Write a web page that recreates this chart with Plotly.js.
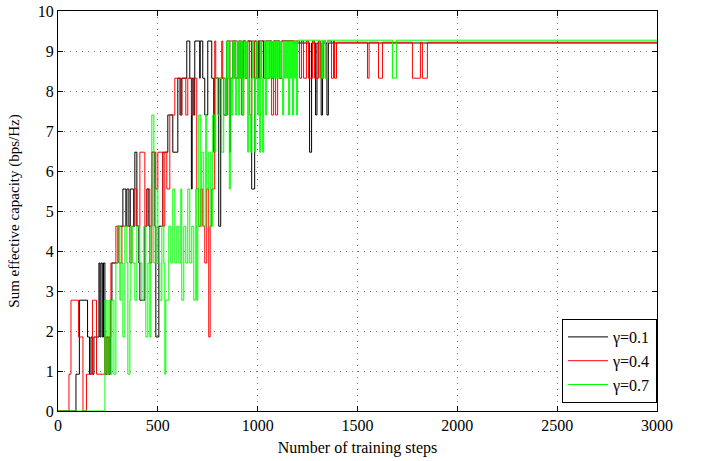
<!DOCTYPE html>
<html>
<head>
<meta charset="utf-8">
<script src="https://cdn.plot.ly/plotly-3.0.1.min.js"></script>
<style>html,body{margin:0;padding:0;background:#fff;}#chart{width:705px;height:461px;}</style>
</head>
<body>
<div id="chart"></div>
<script>
// Series names
const seriesNames = ["γ=0.1", "γ=0.4", "γ=0.7"];

// γ=0.1 (black): training step where value changes, and the value
const blackSteps = [0,90,107,148,158,165,172,180,205,210,215,222,228,235,245,255,262,270,300,325,340,345,355,362,378,385,395,405,410,435,445,455,470,485,490,505,525,550,575,600,615,620,645,660,668,672,680,685,710,712,725,735,750,770,780,785,805,815,830,845,860,865,875,890,905,915,925,940,950,970,985,995,1005,1030,1040,1070,1080,1110,1120,1180,1260,1270,1290,1297,1318,1325,1347,1354,3000];
const blackVals  = [0,0.92,2.77,1.85,0.92,1.85,0.92,1.85,3.7,1.85,3.7,1.85,3.7,0.92,1.85,0.92,2.77,3.7,4.62,5.55,4.62,5.55,4.62,5.55,4.62,6.47,4.62,3.7,2.77,4.62,5.55,4.62,6.47,4.62,1.85,4.62,6.47,7.4,6.47,8.32,7.4,8.32,9.25,8.32,5.55,8.32,7.4,9.25,8.32,9.25,8.32,7.4,9.25,8.32,6.47,8.32,4.62,8.32,7.4,9.25,6.47,8.32,9.25,8.32,9.25,8.32,9.25,8.32,9.25,5.55,9.25,8.32,9.25,8.32,9.25,8.32,9.25,8.32,9.25,9.2,6.47,9.2,7.4,9.2,7.4,9.2,7.4,9.2,9.2];

// γ=0.4 (red)
const redSteps = [0,55,65,103,125,143,173,193,235,245,255,265,290,305,320,360,370,380,395,410,435,445,460,470,490,500,525,535,545,560,585,610,620,640,650,670,680,695,705,715,725,735,745,755,762,770,785,790,820,825,840,850,860,880,885,900,910,920,930,940,950,960,970,985,1000,1010,1020,1040,1060,1070,1080,1090,1100,1110,1120,1210,1220,1230,1245,1255,1275,1285,1305,1315,1330,1340,1350,1370,1380,1385,1395,1550,1558,1605,1625,1775,1815,1825,1850,3000];
const redVals  = [0,0.92,2.77,1.85,0,0.92,2.77,0.92,1.85,0.92,1.85,3.7,4.62,3.7,4.62,3.7,4.62,5.55,4.62,6.47,4.62,5.55,3.7,6.47,5.55,6.47,4.62,6.47,5.55,7.4,8.32,7.4,8.32,7.4,8.32,7.4,8.32,5.55,4.62,5.55,4.62,3.7,5.55,1.85,4.62,5.55,9.25,8.32,9.25,8.32,7.4,8.32,9.25,8.32,9.25,8.32,9.25,7.4,9.25,8.32,9.25,7.4,9.25,8.32,9.25,8.32,9.25,8.32,9.25,7.4,9.25,7.4,9.25,8.32,9.25,8.32,9.25,8.32,9.25,8.32,9.25,8.32,9.25,8.32,9.25,8.32,9.25,8.32,9.25,8.32,9.22,8.32,9.22,8.32,9.22,8.32,9.22,8.32,9.22,9.22];

// γ=0.7 (green)
const greenSteps = [0,235,245,255,265,270,280,290,300,310,315,325,335,345,350,360,365,375,385,395,410,420,430,440,450,460,465,470,480,490,500,510,520,530,535,540,555,565,575,585,595,605,615,620,630,640,650,660,670,680,690,695,700,705,715,720,730,740,745,755,765,775,785,790,800,810,820,830,840,845,850,855,858,863,870,875,880,885,890,895,900,905,910,915,920,925,930,935,940,945,950,955,960,965,970,975,980,985,990,995,1000,1005,1010,1015,1020,1025,1030,1035,1040,1045,1050,1055,1060,1065,1070,1075,1080,1085,1090,1095,1100,1105,1110,1115,1120,1125,1130,1135,1140,1145,1150,1155,1160,1165,1170,1175,1180,1185,1190,1195,1200,1310,1318,1325,1332,1340,1350,1675,1695,3000];
const greenVals  = [0,2.77,0.92,2.77,0.92,2.77,0.92,3.7,4.62,2.77,3.7,1.85,4.62,3.7,0.92,2.77,4.62,3.7,2.77,4.62,3.7,2.77,4.62,1.85,3.7,1.85,4.62,7.4,3.7,5.55,3.7,2.77,4.62,3.7,0.92,2.77,4.62,3.7,5.55,3.7,4.62,3.7,5.55,2.77,4.62,3.7,5.55,3.7,4.62,2.77,5.55,2.77,4.62,7.4,4.62,6.47,4.62,7.4,5.55,6.47,4.62,7.4,6.47,8.32,7.4,8.32,6.47,8.32,7.4,9.25,8.32,9.25,5.55,8.32,7.4,9.25,8.32,9.25,7.4,8.32,9.25,7.4,9.25,8.32,9.25,7.4,8.32,9.25,8.32,9.25,6.47,8.32,7.4,6.47,8.32,9.25,8.32,6.47,8.32,9.25,7.4,8.32,6.47,9.25,8.32,6.47,8.32,9.25,7.4,9.25,8.32,9.25,8.32,9.25,8.32,9.25,8.32,9.25,8.32,9.25,8.32,9.25,8.32,9.25,8.32,7.4,9.25,8.32,9.25,8.32,9.25,7.4,9.25,8.32,9.25,7.4,9.25,8.32,9.25,7.4,9.27,8.32,9.27,8.32,9.27,8.32,9.27,8.32,9.27,9.27];

const xTicks = [0,500,1000,1500,2000,2500,3000];
const yTicks = [0,1,2,3,4,5,6,7,8,9,10];

const colors = ["#000000", "#ff0000", "#00ff00"];
const stepsList = [blackSteps, redSteps, greenSteps];
const valsList = [blackVals, redVals, greenVals];

const traces = seriesNames.map((n, i) => ({
  x: stepsList[i], y: valsList[i], name: n, type: "scatter", mode: "lines",
  line: {color: colors[i], width: 1, shape: "hv"}
}));

const fontFam = "Liberation Serif, Times New Roman, serif";
const axisCommon = {
  showline: true, linecolor: "#000", linewidth: 1, mirror: "ticks",
  ticks: "inside", ticklen: 5, tickcolor: "#000",
  showgrid: true, gridcolor: "#777", griddash: "1px,5px", gridwidth: 1,
  zeroline: false, tickfont: {family: fontFam, size: 16, color: "#000"}
};

const layout = {
  width: 705, height: 461,
  margin: {l: 58, r: 48, t: 11, b: 50},
  paper_bgcolor: "#fff", plot_bgcolor: "#fff",
  showlegend: true,
  legend: {
    x: 1, y: 0.02, xanchor: "right", yanchor: "bottom",
    bordercolor: "#000", borderwidth: 1, bgcolor: "#fff",
    font: {family: fontFam, size: 16, color: "#000"},
    tracegroupgap: 0, itemwidth: 40
  },
  xaxis: Object.assign({}, axisCommon, {
    range: [0, 3000], tickvals: xTicks, ticktext: xTicks.map(String),
    title: {text: "Number of training steps", font: {family: fontFam, size: 16, color: "#000"}, standoff: 8}
  }),
  yaxis: Object.assign({}, axisCommon, {
    range: [0, 10], tickvals: yTicks, ticktext: yTicks.map(String),
    title: {text: "Sum effective capacity (bps/Hz)", font: {family: fontFam, size: 15, color: "#000"}, standoff: 14}
  })
};

Plotly.newPlot("chart", traces, layout, {displayModeBar: false, staticPlot: true});
</script>
</body>
</html>
